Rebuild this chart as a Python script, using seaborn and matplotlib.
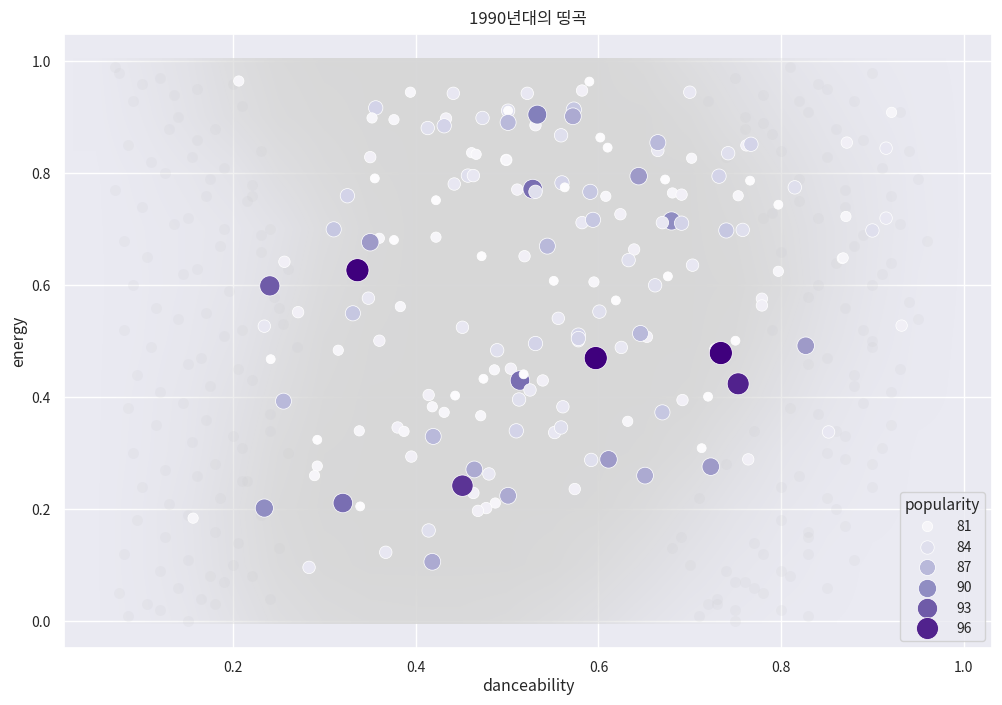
import matplotlib
matplotlib.use("Agg")
import matplotlib.pyplot as plt
from matplotlib.colors import LinearSegmentedColormap
from matplotlib.patches import Rectangle
import pandas as pd
import seaborn as sns

TITLE = "1990년대의 띵곡"
X_TICKS = [0.2, 0.4, 0.6, 0.8, 1.0]
Y_TICKS = [0.0, 0.2, 0.4, 0.6, 0.8, 1.0]

# Highlighted tracks
danceability = [
    .206,.394,.441,.501,.501,.501,.522,.356,.352,.376,.413,.433,.431,.473,.461,.466,.499,.499,.350,.355,
    .457,.463,.442,.511,.528,.531,.422,.325,.310,.360,.350,.376,.422,.472,.519,.256,.336,.240,.348,.271,
    .331,.383,.234,.451,.360,.241,.315,.489,.486,.504,.474,.514,.518,.525,.513,.255,.414,.443,.418,.431,
    .471,.338,.292,.380,.387,.419,.510,.395,.292,.289,.464,.480,.463,.451,.501,.487,.477,.468,.320,.339,
    .234,.156,.414,.367,.283,.418,.590,.582,.531,.533,.573,.572,.559,.602,.610,.700,.665,.665,.702,.742,
    .762,.767,.872,.915,.921,.644,.673,.681,.691,.732,.766,.753,.797,.815,.560,.563,.591,.608,.680,.582,
    .594,.624,.670,.691,.740,.758,.871,.915,.900,.867,.868,.544,.639,.633,.703,.551,.595,.676,.662,.797,
    .619,.601,.556,.779,.779,.932,.578,.653,.646,.531,.578,.578,.597,.625,.728,.734,.750,.827,.753,.539,
    .561,.720,.692,.670,.632,.552,.559,.852,.713,.592,.611,.651,.723,.764,.574]
energy = [
    .965,.945,.943,.912,.912,.891,.943,.917,.899,.896,.881,.898,.885,.899,.837,.834,.824,.824,.829,.791,
    .796,.796,.781,.771,.772,.767,.752,.760,.700,.684,.677,.681,.686,.652,.652,.642,.627,.599,.577,.552,
    .550,.562,.527,.525,.501,.468,.484,.484,.449,.451,.433,.430,.441,.413,.396,.393,.404,.403,.383,.373,
    .367,.340,.324,.346,.339,.330,.340,.294,.277,.260,.271,.263,.229,.242,.224,.211,.202,.197,.211,.205,
    .202,.184,.162,.123,.096,.106,.964,.948,.886,.905,.914,.902,.868,.864,.846,.945,.841,.855,.827,.836,
    .850,.852,.855,.845,.909,.795,.789,.765,.762,.795,.787,.760,.744,.775,.783,.775,.767,.759,.715,.712,
    .717,.727,.712,.711,.698,.699,.723,.720,.698,.648,.649,.670,.664,.645,.636,.608,.606,.616,.600,.625,
    .573,.553,.541,.576,.564,.528,.511,.508,.514,.496,.501,.505,.470,.489,.486,.479,.501,.492,.424,.430,
    .383,.401,.395,.373,.357,.337,.346,.338,.309,.288,.289,.260,.276,.289,.236]
popularity = [
    81,81,83,84,80,87,83,85,81,81,84,82,85,84,81,81,82,81,82,80,
    84,83,83,82,92,84,80,85,86,81,89,80,81,80,82,82,98,93,83,82,
    86,81,83,83,82,80,81,84,81,82,80,92,80,83,84,87,82,80,81,81,
    81,81,80,82,81,87,85,82,81,81,88,83,82,95,88,81,82,82,92,80,
    90,81,84,83,83,88,80,82,82,91,86,88,84,80,80,83,83,87,81,84,
    82,85,82,83,81,89,80,81,82,85,80,81,80,84,85,80,86,81,90,83,
    86,82,83,85,86,84,81,83,84,81,81,87,82,84,83,80,81,80,84,81,
    80,84,83,82,82,82,85,82,87,85,83,85,98,83,82,98,80,89,96,82,
    83,80,82,86,81,83,84,83,80,84,89,88,89,82,82]

# The dense grey cloud of all other tracks cannot be read point by point.
# Estimated coverage of the cloud (0-1): columns danceability .05 to 1.0 by .05,
# rows energy 0.0 to 1.0 by 0.1.
cloud_cover = [
    [0,.08,.20,.42,.68,.82,.88,.90,.90,.85,.72,.55,.35,.18,.09,.03,.01,0,0,0],
    [0,.10,.26,.55,.82,.95,1,1,1,1,.95,.80,.60,.38,.20,.10,.03,0,0,0],
    [0,.10,.28,.58,.88,1,1,1,1,1,1,.97,.82,.58,.35,.18,.08,.02,0,0],
    [0,.08,.22,.50,.82,.98,1,1,1,1,1,1,.97,.82,.55,.30,.15,.05,0,0],
    [0,.07,.20,.42,.72,.93,1,1,1,1,1,1,1,.97,.78,.50,.25,.10,.02,0],
    [0,.05,.15,.32,.62,.88,.98,1,1,1,1,1,1,1,.92,.65,.38,.17,.03,0],
    [0,.04,.12,.25,.50,.80,.95,1,1,1,1,1,1,1,.97,.78,.46,.22,.05,0],
    [0,.05,.12,.22,.42,.72,.92,1,1,1,1,1,1,1,.92,.72,.46,.24,.07,0],
    [0,.08,.20,.35,.65,.85,.97,1,1,1,1,1,1,1,.85,.62,.38,.22,.06,0],
    [.02,.16,.36,.62,.85,.95,1,1,1,1,1,1,1,.88,.65,.45,.27,.13,.04,0],
    [.03,.22,.42,.72,.92,1,1,1,1,1,1,1,.90,.70,.50,.30,.16,.07,.02,0],
]
dots_dance = [
    .075,.09,.12,.14,.16,.18,.085,.11,.13,.155,.175,.07,.10,.125,.15,.17,.19,.08,.105,.135,
    .16,.185,.09,.115,.145,.17,.195,.08,.11,.14,.165,.19,.095,.12,.15,.175,.205,.085,.115,.145,
    .17,.20,.09,.125,.155,.18,.21,.10,.13,.16,.185,.215,.095,.125,.15,.18,.205,.08,.12,.15,
    .175,.20,.075,.105,.14,.165,.19,.085,.12,.15,.18,.07,.10,.135,.16,.19,.215,.23,.245,.255,
    .75,.78,.81,.83,.76,.79,.80,.84,.86,.88,.90,.82,.85,.87,.89,.91,.93,.84,.87,.89,
    .92,.94,.86,.88,.90,.93,.95,.87,.89,.91,.94,.96,.85,.88,.90,.92,.95,.84,.86,.89,
    .91,.93,.82,.85,.87,.90,.92,.80,.83,.86,.88,.90,.77,.80,.83,.85,.87,.75,.78,.81,
    .83,.72,.75,.77,.80,.70,.73,.76,.68,.71,.74,.88,.83,.79,.85,.92,.90,.78,.82,.87,
    .21,.23,.22,.24,.26,.25,.27,.22,.24,.26,.21,.23,.25,.22,.24,.20,.23,.21,.24,.22,
    .72,.76,.78,.74,.80,.82,.84,.79,.83,.81,.85,.77,.80,.83,.74,.78,.71,.75,.69,.73]
dots_energy = [
    .98,.93,.97,.90,.95,.88,.85,.82,.88,.83,.79,.77,.74,.80,.72,.76,.70,.68,.65,.71,
    .63,.67,.60,.56,.62,.55,.59,.52,.49,.54,.47,.51,.44,.41,.46,.42,.45,.38,.35,.39,
    .36,.33,.30,.27,.32,.28,.31,.24,.21,.26,.22,.25,.18,.15,.19,.16,.14,.12,.09,.11,
    .08,.10,.05,.03,.06,.04,.07,.01,.02,.00,.03,.99,.96,.94,.86,.81,.75,.69,.58,.53,
    .97,.94,.99,.91,.90,.87,.84,.96,.88,.93,.98,.79,.83,.77,.86,.81,.91,.72,.74,.69,
    .76,.84,.64,.67,.60,.71,.79,.56,.52,.62,.57,.68,.47,.44,.50,.41,.54,.37,.34,.39,
    .31,.45,.26,.22,.29,.24,.35,.18,.15,.20,.11,.28,.14,.09,.12,.06,.17,.02,.05,.08,
    .01,.03,.00,.06,.02,.10,.04,.07,.13,.01,.09,.42,.58,.73,.95,.64,.49,.89,.93,.33,
    .92,.84,.76,.70,.63,.56,.49,.43,.37,.30,.25,.19,.13,.08,.04,.96,.66,.52,.34,.78,
    .93,.88,.72,.83,.66,.75,.60,.52,.46,.38,.30,.34,.24,.16,.28,.12,.22,.07,.15,.03]

sns.set_theme(style="darkgrid")
plt.rcParams["font.family"] = ["Noto Sans CJK KR", "DejaVu Sans"]

fig = plt.figure(figsize=(10.03, 7.05), dpi=100)
ax = fig.add_axes([64 / 1003, 57 / 705, 928 / 1003, 614 / 705])

cloud_cmap = LinearSegmentedColormap.from_list("cloud", [(.84, .84, .845, 0), (.845, .845, .845, .97)])
cloud = ax.imshow(cloud_cover, extent=(.025, 1.025, -.05, 1.05), origin="lower", aspect="auto",
                  cmap=cloud_cmap, vmin=0, vmax=1, interpolation="bilinear", interpolation_stage="data",
                  zorder=0.9)
cloud.set_clip_path(Rectangle((0, -.006), 1.03, 1.012, transform=ax.transData))
sns.scatterplot(x=dots_dance, y=dots_energy, s=62, color="#c4c4c8", alpha=0.13, linewidth=0, ax=ax, legend=False)

tracks = pd.DataFrame({"danceability": danceability, "energy": energy, "popularity": popularity})
sns.scatterplot(data=tracks, x="danceability", y="energy", hue="popularity", size="popularity",
                palette="Purples", sizes=(42, 275), ax=ax)

ax.set_xlim(0.0146, 1.031)
ax.set_ylim(-0.048, 1.049)
ax.set_xticks(X_TICKS)
ax.set_yticks(Y_TICKS)
ax.tick_params(labelsize=10)
ax.set_xlabel("danceability", fontsize=11.5, labelpad=2)
ax.set_ylabel("energy", fontsize=11.5, labelpad=3)
ax.set_title(TITLE, fontsize=12, pad=7)
ax.legend(title="popularity", loc="lower right", fontsize=10, title_fontsize=11.2,
          labelspacing=0.46, handletextpad=1.1, borderpad=0.35)

fig.savefig("out.png", dpi=100)
